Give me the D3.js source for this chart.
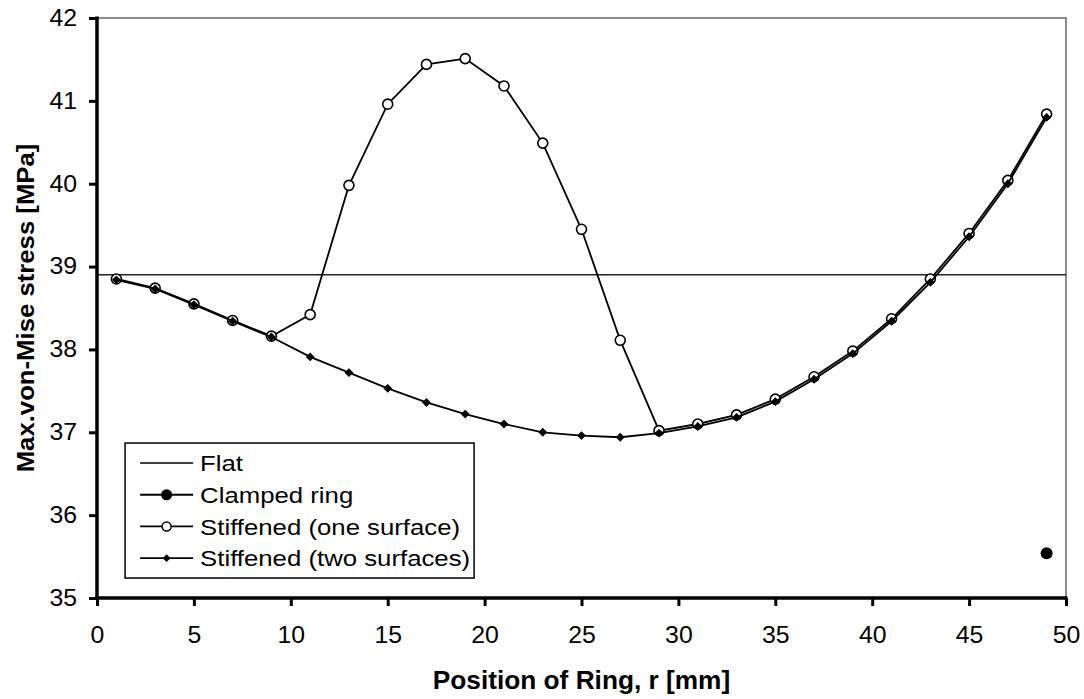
<!DOCTYPE html>
<html>
<head>
<meta charset="utf-8">
<script src="https://cdn.jsdelivr.net/npm/d3@7"></script>
<style>
  body { margin: 0; background: #fff; }
  svg text { font-family: "Liberation Sans", Arial, sans-serif; fill: #000; }
  /* the reference type is a bit wider than Arial */
  .wide { transform-box: fill-box; transform-origin: center; transform: scaleX(1.08); }
  .wide-left { transform-box: fill-box; transform-origin: left center; transform: scaleX(1.12); }
  .wide-title { transform-box: fill-box; transform-origin: center; transform: scaleX(1.05); }
</style>
</head>
<body>
<div id="chart"></div>
<script>
// ring positions r [mm]
var positions = [1, 3, 5, 7, 9, 11, 13, 15, 17, 19, 21, 23, 25, 27, 29, 31, 33, 35, 37, 39, 41, 43, 45, 47, 49]

// Stiffened (one surface)
var oneSurface = [38.85, 38.74, 38.55, 38.35, 38.16, 38.42, 39.98, 40.96, 41.44, 41.51, 41.18, 40.49, 39.45, 38.11,
                  37.02, 37.10, 37.21, 37.40, 37.67, 37.98, 38.37, 38.85, 39.40, 40.04, 40.84]
// Stiffened (two surfaces)
var twoSurfaces = [38.84, 38.73, 38.54, 38.34, 38.15, 37.91, 37.72, 37.53, 37.36, 37.22, 37.10, 37.00, 36.96, 36.94,
                   36.99, 37.07, 37.18, 37.37, 37.64, 37.95, 38.34, 38.81, 39.36, 40.00, 40.80]
// Clamped ring (single point)
var clampedX = [49]
var clampedY = [35.54]
// Flat plate value
var flatValue = 38.9

var xTicks = [0, 5, 10, 15, 20, 25, 30, 35, 40, 45, 50]
var yTicks = [35, 36, 37, 38, 39, 40, 41, 42]
var legendLabels = ['Flat', 'Clamped ring', 'Stiffened (one surface)', 'Stiffened (two surfaces)']

const margin = {top: 18, right: 18, bottom: 101, left: 97},
    width = 1084 - margin.left - margin.right,
    height = 699 - margin.top - margin.bottom;

const svg = d3.select("#chart")
    .append("svg")
    .attr("width", 1084)
    .attr("height", 699)
  .append("g")
    .attr("transform", `translate(${margin.left},${margin.top})`);

const xScale = d3.scaleLinear().domain([0, 50]).range([0, width]);
const yScale = d3.scaleLinear().domain([35, 42]).range([height, 0]);

// top and right frame
svg.append("path")
    .attr("d", `M0,0H${width}V${height}`)
    .attr("fill", "none")
    .attr("stroke", "#666")
    .attr("stroke-width", 1.5);

// flat line
svg.append("line")
    .attr("x1", xScale(0)).attr("x2", xScale(50))
    .attr("y1", yScale(flatValue)).attr("y2", yScale(flatValue))
    .attr("stroke", "#222")
    .attr("stroke-width", 1.5);

const line = d3.line()
    .x(d => xScale(d[0]))
    .y(d => yScale(d[1]));

const oneData = positions.map((p, i) => [p, oneSurface[i]]);
const twoData = positions.map((p, i) => [p, twoSurfaces[i]]);

// one surface: line + open circles
svg.append("path")
    .datum(oneData)
    .attr("fill", "none")
    .attr("stroke", "#000")
    .attr("stroke-width", 1.8)
    .attr("d", line);

svg.append("g").selectAll("circle")
    .data(oneData)
    .enter()
    .append("circle")
    .attr("cx", d => xScale(d[0]))
    .attr("cy", d => yScale(d[1]))
    .attr("r", 5)
    .attr("fill", "#fff")
    .attr("stroke", "#000")
    .attr("stroke-width", 1.6);

// two surfaces: line + diamonds
svg.append("path")
    .datum(twoData)
    .attr("fill", "none")
    .attr("stroke", "#000")
    .attr("stroke-width", 1.8)
    .attr("d", line);

const diamond = d3.symbol().type(d3.symbolDiamond2).size(50);

svg.append("g").selectAll("path")
    .data(twoData)
    .enter()
    .append("path")
    .attr("transform", d => `translate(${xScale(d[0])},${yScale(d[1])})`)
    .attr("d", diamond)
    .attr("fill", "#000");

// clamped ring
svg.append("g").selectAll("circle")
    .data(clampedX)
    .enter()
    .append("circle")
    .attr("cx", d => xScale(d))
    .attr("cy", (d, i) => yScale(clampedY[i]))
    .attr("r", 6)
    .attr("fill", "#000");

// axes
const xAxis = d3.axisBottom(xScale).tickValues(xTicks).tickFormat(d3.format("d"))
    .tickSize(8).tickPadding(21).tickSizeOuter(0);
const yAxis = d3.axisLeft(yScale).tickValues(yTicks).tickFormat(d3.format("d"))
    .tickSize(8).tickPadding(13).tickSizeOuter(0);

const xAxisGroup = svg.append("g")
    .attr("class", "x-axis")
    .attr("transform", `translate(0, ${height})`)
    .call(xAxis);

const yAxisGroup = svg.append("g")
    .attr("class", "y-axis")
    .call(yAxis);

[xAxisGroup, yAxisGroup].forEach(g => {
    g.select(".domain").attr("stroke", "#000").attr("stroke-width", 3.5);
    g.selectAll(".tick line").attr("stroke", "#000").attr("stroke-width", 3);
    g.selectAll("text")
        .attr("class", "wide")
        .attr("font-size", 23)
        .attr("font-family", '"Liberation Sans", Arial, sans-serif');
});
xAxisGroup.select(".domain").attr("d", `M-1.5,0H${width + 1.5}`);
yAxisGroup.select(".domain").attr("d", `M0,${height + 1.5}V-1.5`);

// axis titles
svg.append("text")
    .attr("class", "wide-title")
    .attr("x", width / 2)
    .attr("y", height + 91)
    .attr("text-anchor", "middle")
    .attr("font-size", 25)
    .attr("font-weight", "bold")
    .text("Position of Ring, r [mm]");

svg.append("g")
    .attr("transform", `translate(${-63},${height / 2}) rotate(-90)`)
  .append("text")
    .attr("class", "wide-title")
    .attr("text-anchor", "middle")
    .attr("font-size", 24.5)
    .attr("font-weight", "bold")
    .text("Max.von-Mise stress [MPa]");

// legend
const legend = svg.append("g")
    .attr("transform", `translate(${xScale(1.45)},${yScale(36.87)})`);

legend.append("rect")
    .attr("width", 349)
    .attr("height", 135)
    .attr("fill", "#fff")
    .attr("stroke", "#000")
    .attr("stroke-width", 1.5);

const rows = legend.selectAll("g.row")
    .data(legendLabels)
    .enter()
    .append("g")
    .attr("class", "row")
    .attr("transform", (d, i) => `translate(0, ${20 + i * 31.7})`);

rows.append("line")
    .attr("x1", 15).attr("x2", 68)
    .attr("stroke", "#000")
    .attr("stroke-width", (d, i) => i == 0 ? 1.5 : 1.8);

rows.append("text")
    .attr("class", "wide-left")
    .attr("x", 75)
    .attr("dy", "0.36em")
    .attr("font-size", 23)
    .text(d => d);

rows.filter((d, i) => i == 1).append("circle")
    .attr("cx", 41.5).attr("r", 5.5).attr("fill", "#000");
rows.filter((d, i) => i == 2).append("circle")
    .attr("cx", 41.5).attr("r", 4.5).attr("fill", "#fff").attr("stroke", "#000").attr("stroke-width", 1.5);
rows.filter((d, i) => i == 3).append("path")
    .attr("transform", "translate(41.5,0)")
    .attr("d", d3.symbol().type(d3.symbolDiamond2).size(40))
    .attr("fill", "#000");
</script>
</body>
</html>
